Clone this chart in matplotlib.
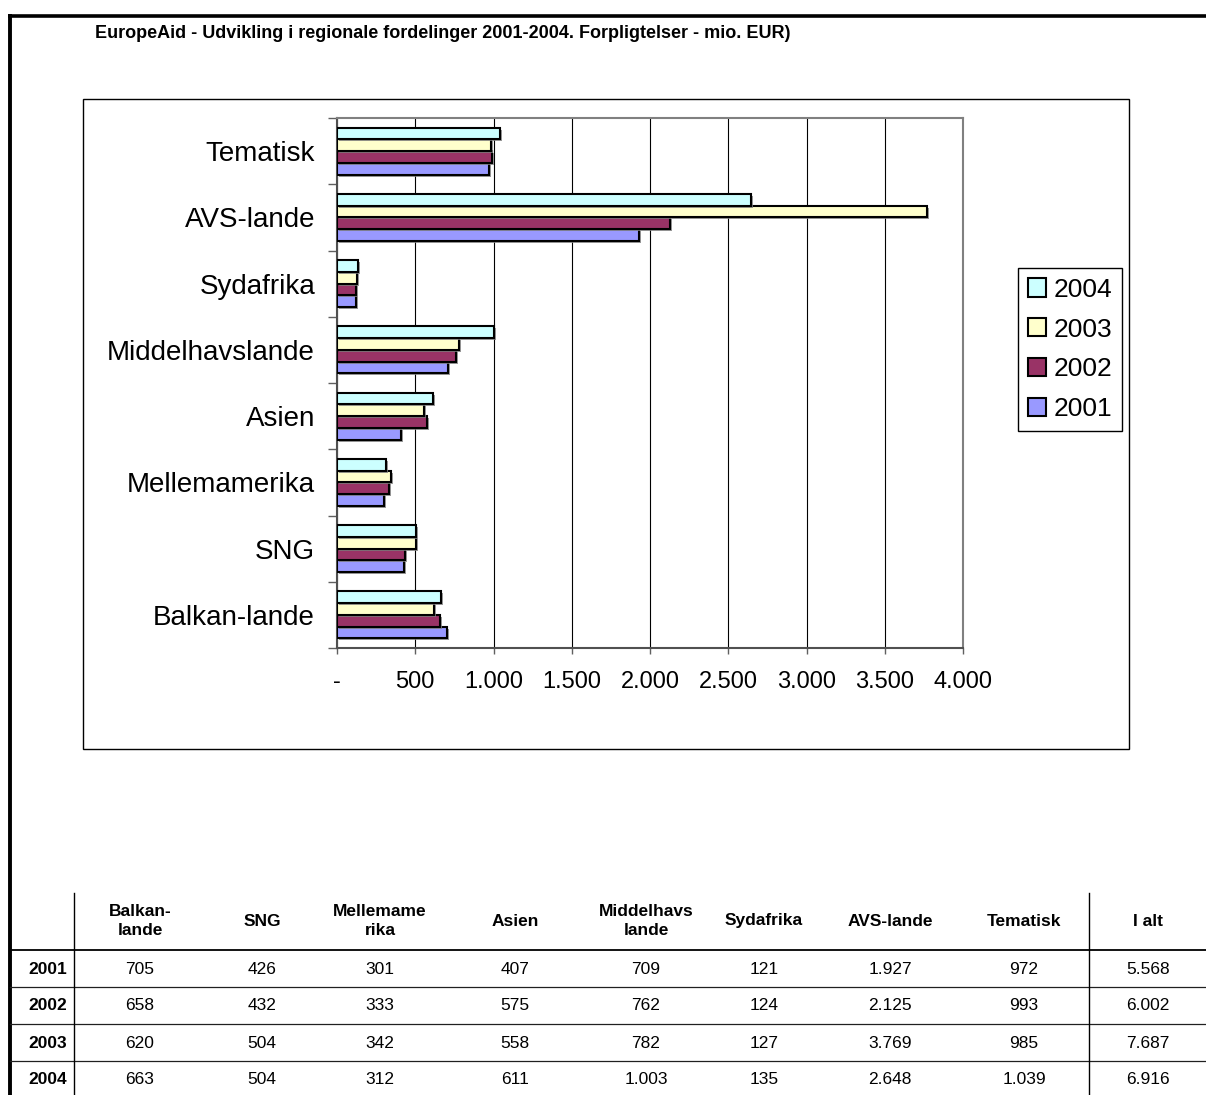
import matplotlib.pyplot as plt
import matplotlib.patheffects as pe
from matplotlib.patches import Patch, Rectangle
from matplotlib.ticker import FixedLocator, FuncFormatter

plt.rcParams['font.family'] = ['Liberation Sans', 'DejaVu Sans']

W, H = 1206, 1095

title = 'EuropeAid - Udvikling i regionale fordelinger 2001-2004. Forpligtelser - mio. EUR)'

categories = ['Balkan-lande', 'SNG', 'Mellemamerika', 'Asien',
              'Middelhavslande', 'Sydafrika', 'AVS-lande', 'Tematisk']
years = ['2001', '2002', '2003', '2004']
v2001 = [705, 426, 301, 407, 709, 121, 1927, 972]
v2002 = [658, 432, 333, 575, 762, 124, 2125, 993]
v2003 = [620, 504, 342, 558, 782, 127, 3769, 985]
v2004 = [663, 504, 312, 611, 1003, 135, 2648, 1039]
totals = [5568, 6002, 7687, 6916]

table_headers = ['Balkan-\nlande', 'SNG', 'Mellemame\nrika', 'Asien',
                 'Middelhavs\nlande', 'Sydafrika', 'AVS-lande', 'Tematisk', 'I alt']

colors = ['#9999FF', '#993366', '#FFFFCC', '#CCFFFF']


def dk(v):
    return f'{v:,}'.replace(',', '.')


fig = plt.figure(figsize=(W / 100, H / 100), dpi=100)

# pixel-coordinate overlay for frame, box and table
bg = fig.add_axes([0, 0, 1, 1])
bg.set_xlim(0, W)
bg.set_ylim(H, 0)
bg.axis('off')

bg.plot([8, W], [15.5, 15.5], color='black', lw=2.6, solid_capstyle='butt')
bg.plot([10, 10], [14, H], color='black', lw=2.8, solid_capstyle='butt')
bg.add_patch(Rectangle((83, 99), 1129 - 83, 749 - 99, fill=False,
                       edgecolor='black', lw=1))
bg.text(95, 33, title, fontsize=13, fontweight='bold', va='center', ha='left')

# table
col_x = [140, 262, 380, 515, 646, 764, 890, 1024, 1148]
row_y = [969, 1006, 1043, 1080]
for x, h in zip(col_x, table_headers):
    bg.text(x, 921, h, fontsize=12.5, fontweight='bold', ha='center',
            va='center', linespacing=1.3)
rows = [v2001, v2002, v2003, v2004]
for y, yr, vals, tot in zip(row_y, years, rows, totals):
    bg.text(67, y, yr, fontsize=12.5, fontweight='bold', ha='right', va='center')
    for x, v in zip(col_x, vals + [tot]):
        bg.text(x, y, dk(v), fontsize=12.5, ha='center', va='center')
bg.plot([10, W], [950, 950], color='black', lw=1.3)
for y in [987, 1024, 1061]:
    bg.plot([10, W], [y, y], color='#202020', lw=0.9)
for x in [74, 1089]:
    bg.plot([x, x], [893, H], color='black', lw=1)

# chart
ax = fig.add_axes([337 / W, 1 - 648 / H, 626 / W, 530 / H])
h = 0.1775
pos = [i + 0.5 for i in range(len(categories))]
series = [v2001, v2002, v2003, v2004]
shadow = [pe.SimplePatchShadow(offset=(1.5, -1.5), shadow_rgbFace='#808080', alpha=0.8),
          pe.Normal()]
for k, (vals, c) in enumerate(zip(series, colors)):
    bars = ax.barh([p + (k - 1.5) * h for p in pos], vals, height=h, color=c,
                   edgecolor='black', linewidth=1.5, zorder=3)
    for b in bars:
        b.set_path_effects(shadow)

ax.set_xlim(0, 4000)
ax.set_ylim(0, len(categories))
ax.xaxis.set_major_locator(FixedLocator(range(0, 4001, 500)))
ax.xaxis.set_major_formatter(FuncFormatter(lambda v, p: '-' if v == 0 else dk(int(v))))
ax.xaxis.grid(True, color='black', linewidth=0.8)
ax.set_axisbelow(True)
ax.tick_params(axis='x', length=4.3, width=1, color='#606060', labelsize=17, pad=12)

ax.yaxis.set_major_locator(FixedLocator(range(0, len(categories) + 1)))
ax.yaxis.set_major_formatter(FuncFormatter(lambda v, p: ''))
ax.yaxis.set_minor_locator(FixedLocator(pos))
ax.set_yticklabels(categories, minor=True)
ax.tick_params(axis='y', which='major', length=6.5, width=1, color='#606060')
ax.tick_params(axis='y', which='minor', length=0, labelsize=20, pad=15.8)

for s in ['left', 'bottom']:
    ax.spines[s].set_color('#505050')
    ax.spines[s].set_linewidth(1.5)
for s in ['right', 'top']:
    ax.spines[s].set_color('#808080')
    ax.spines[s].set_linewidth(1.5)

handles = [Patch(facecolor=c, edgecolor='black', linewidth=1.5) for c in colors]
leg = fig.legend(handles[::-1], years[::-1], loc='upper left',
                 bbox_to_anchor=(1018 / W, 1 - 268 / H), borderaxespad=0,
                 fancybox=False, edgecolor='black', fontsize=19,
                 handlelength=0.68, handleheight=0.68, handletextpad=0.3,
                 labelspacing=0.6, borderpad=0.37, framealpha=1)
leg.get_frame().set_linewidth(1)

fig.savefig('out.png', dpi=100)
